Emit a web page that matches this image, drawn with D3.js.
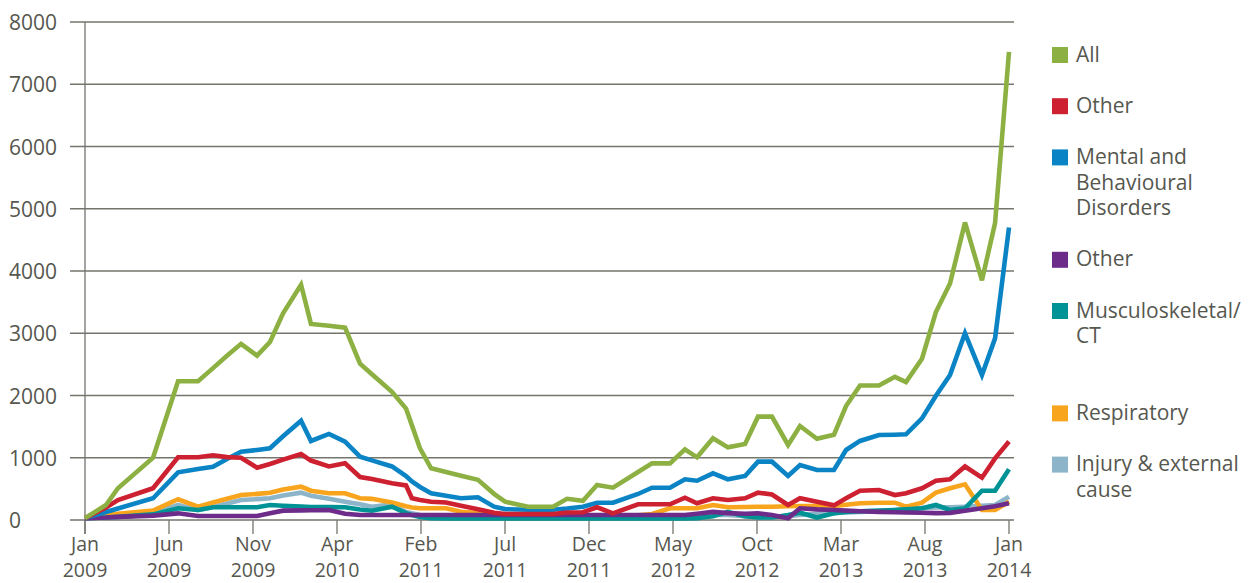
<!DOCTYPE html>
<html>
<head>
<meta charset="utf-8">
<script src="https://cdn.jsdelivr.net/npm/d3@7"></script>
<style>
  html, body { margin: 0; padding: 0; background: #ffffff; }
  svg { display: block; }
  text { font-family: "Open Sans", "Noto Sans", sans-serif; fill: #56574f; }
</style>
</head>
<body>
<svg id="chart" width="1254" height="583"></svg>
<script>
// ---- data ----
// position of each observation along the category axis (one tick every 5 units)
const period = [0, 1.25, 1.96, 4.05, 5.54, 6.73, 7.62, 8.45, 9.29, 10.24,
  11.01, 11.79, 12.86, 13.45, 14.52, 15.48, 16.37, 17.08, 18.27, 19.11,
  19.46, 19.94, 20.6, 21.49, 22.38, 23.39, 24.35, 25.0, 26.37, 27.86,
  28.69, 29.64, 30.48, 31.43, 32.92, 33.75, 34.82, 35.71, 36.43, 37.38,
  38.27, 39.29, 40.06, 40.89, 41.85, 42.56, 43.57, 44.58, 45.3, 46.13,
  47.26, 48.21, 48.87, 49.82, 50.65, 51.49, 52.38, 53.39, 54.17, 55];

const tickPositions = [0, 5, 10, 15, 20, 25, 30, 35, 40, 45, 50, 55];
const tickMonths = ["Jan", "Jun", "Nov", "Apr", "Feb", "Jul", "Dec", "May", "Oct", "Mar", "Aug", "Jan"];
const tickYears = ["2009", "2009", "2009", "2010", "2011", "2011", "2011", "2012", "2012", "2013", "2013", "2014"];
const yTicks = [0, 1000, 2000, 3000, 4000, 5000, 6000, 7000, 8000];

const allValues = [30, 240, 510, 1000, 2230, 2230, 2440, 2640, 2830, 2640,
  2860, 3320, 3780, 3150, 3120, 3090, 2510, 2340, 2060, 1790,
  1520, 1150, 830, 770, 710, 645, 420, 294, 214, 214,
  340, 310, 562, 519, 770, 910, 910, 1135, 1007, 1312,
  1167, 1220, 1660, 1660, 1205, 1510, 1305, 1370, 1830, 2160,
  2160, 2300, 2215, 2590, 3340, 3800, 4780, 3850, 4770, 7520];

const otherRed = [30, 200, 320, 510, 1007, 1007, 1040, 1010, 1000, 840,
  900, 970, 1060, 955, 860, 910, 690, 660, 590, 555,
  350, 320, 294, 280, 230, 172, 117, 96, 96, 96,
  120, 125, 204, 107, 252, 252, 252, 358, 268, 349,
  321, 349, 439, 410, 241, 349, 294, 235, 349, 470,
  482, 401, 429, 509, 630, 654, 860, 680, 990, 1260];

const mental = [30, 128, 185, 349, 766, 818, 856, 981, 1097, 1125,
  1152, 1344, 1595, 1269, 1382, 1258, 1017, 958, 860, 707,
  620, 530, 429, 390, 349, 365, 214, 175, 165, 165,
  185, 214, 278, 278, 418, 519, 519, 654, 631, 750,
  654, 707, 937, 937, 707, 884, 803, 803, 1125, 1270,
  1365, 1370, 1376, 1633, 1997, 2330, 3000, 2330, 2918, 4700];

const otherPurple = [30, 40, 50, 70, 107, 64, 64, 64, 64, 64,
  110, 150, 155, 157, 160, 100, 80, 80, 80, 80,
  80, 80, 80, 80, 80, 80, 80, 80, 80, 80,
  80, 80, 80, 80, 80, 80, 80, 80, 100, 130,
  110, 100, 107, 80, 27, 188, 170, 160, 150, 140,
  130, 125, 120, 117, 110, 115, 150, 188, 220, 268];

const musculo = [30, 40, 50, 90, 188, 160, 204, 204, 204, 204,
  241, 230, 215, 210, 207, 204, 170, 150, 214, 110,
  80, 50, 30, 25, 25, 25, 25, 25, 25, 25,
  25, 25, 25, 25, 25, 25, 25, 25, 30, 60,
  130, 60, 40, 40, 80, 117, 40, 107, 130, 140,
  150, 160, 170, 188, 241, 160, 188, 471, 471, 814];

const respiratory = [30, 80, 100, 150, 333, 214, 281, 340, 401, 420,
  439, 490, 535, 470, 429, 429, 349, 340, 280, 220,
  200, 188, 188, 188, 133, 110, 96, 80, 70, 70,
  70, 70, 70, 70, 75, 96, 188, 188, 188, 241,
  204, 210, 214, 214, 220, 225, 225, 225, 245, 268,
  278, 278, 214, 278, 439, 509, 573, 160, 160, 294];

const injury = [30, 60, 70, 110, 241, 160, 210, 265, 321, 335,
  349, 395, 439, 390, 340, 294, 252, 214, 250, 130,
  107, 80, 60, 50, 40, 40, 40, 40, 40, 40,
  40, 40, 40, 40, 40, 50, 60, 70, 70, 80,
  80, 60, 50, 50, 60, 80, 100, 110, 120, 130,
  140, 160, 180, 190, 200, 205, 214, 230, 241, 374];

const seriesNames = ["All", "Other", "Mental and Behavioural Disorders", "Other", "Musculoskeletal/ CT", "Respiratory", "Injury & external cause"];
const legendLines = [["All"], ["Other"], ["Mental and", "Behavioural", "Disorders"], ["Other"], ["Musculoskeletal/", "CT", ""], ["Respiratory"], ["Injury & external", "cause"]];
const seriesColors = ["#8db043", "#cd2030", "#0b84c5", "#6d2c8a", "#009395", "#f8a51d", "#8cb5c9"];
const seriesValues = [allValues, otherRed, mental, otherPurple, musculo, respiratory, injury];

// ---- layout ----
const svg = d3.select("#chart");
const plotLeft = 85, plotRight = 1009, plotTop = 22, plotBottom = 520;
const gridLeft = 70, gridRight = 1014;

const x = d3.scaleLinear().domain([0, 55]).range([plotLeft, plotRight]);
const y = d3.scaleLinear().domain([0, 8000]).range([plotBottom, plotTop]);

const gridColor = "#74756d";

// horizontal gridlines
svg.append("g").selectAll("line").data(yTicks).join("line")
  .attr("x1", gridLeft).attr("x2", gridRight)
  .attr("y1", d => y(d)).attr("y2", d => y(d))
  .attr("stroke", gridColor).attr("stroke-width", 1.3);

// y axis line
svg.append("line")
  .attr("x1", x(0)).attr("x2", x(0))
  .attr("y1", y(8000)).attr("y2", plotBottom + 14)
  .attr("stroke", gridColor).attr("stroke-width", 1.3);

// y labels
svg.append("g").selectAll("text").data(yTicks).join("text")
  .attr("x", 9).attr("y", d => y(d) + 8)
  .attr("font-size", 21)
  .text(d => d);

// x ticks
svg.append("g").selectAll("line").data(tickPositions).join("line")
  .attr("x1", d => x(d)).attr("x2", d => x(d))
  .attr("y1", plotBottom).attr("y2", plotBottom + 14)
  .attr("stroke", gridColor).attr("stroke-width", 1.3);

const xl = svg.append("g").selectAll("text").data(tickPositions).join("text")
  .attr("text-anchor", "middle")
  .attr("font-size", 19.5)
  .attr("x", d => x(d))
  .attr("y", 550.5);
xl.append("tspan").attr("x", d => x(d)).attr("dy", 0).text((d, i) => tickMonths[i]);
xl.append("tspan").attr("x", d => x(d)).attr("dy", 26.7).text((d, i) => tickYears[i]);

// series lines (drawn so that "All" ends up on top)
const line = d3.line().x((d, i) => x(period[i])).y(d => y(d));
const order = [6, 5, 4, 3, 2, 1, 0];
svg.append("g").selectAll("path").data(order).join("path")
  .attr("d", k => line(seriesValues[k]))
  .attr("fill", "none")
  .attr("stroke", k => seriesColors[k])
  .attr("stroke-width", 4.6)
  .attr("stroke-linejoin", "miter")
  .attr("stroke-miterlimit", 3);

// legend
const lineStep = 25.6;
let cursor = 47;
const legendTops = legendLines.map(lines => { const t = cursor; cursor += lineStep * (lines.length + 1); return t; });
const lg = svg.append("g").selectAll("g").data(seriesNames).join("g");
lg.append("rect")
  .attr("x", 1052).attr("y", (d, i) => legendTops[i])
  .attr("width", 16).attr("height", 16)
  .attr("fill", (d, i) => seriesColors[i]);
lg.each(function (d, i) {
  const t = d3.select(this).append("text").attr("font-size", 21)
    .attr("x", 1076).attr("y", legendTops[i] + 14.5);
  legendLines[i].forEach((s, j) => {
    t.append("tspan").attr("x", 1076).attr("dy", j === 0 ? 0 : lineStep).text(s);
  });
});
</script>
</body>
</html>
